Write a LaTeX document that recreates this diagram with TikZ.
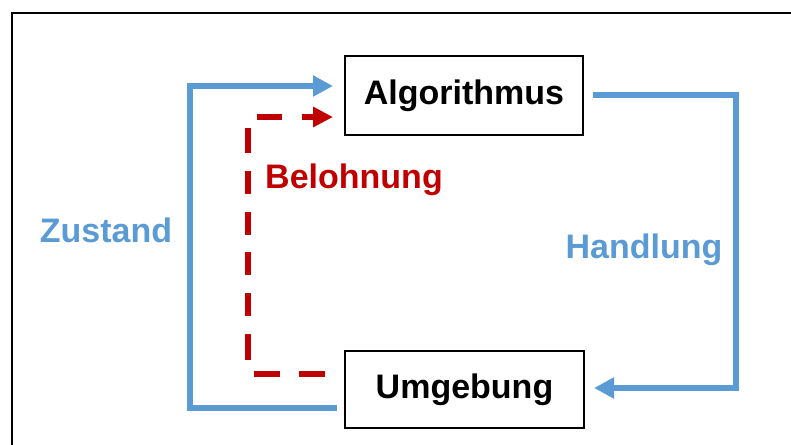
\documentclass[tikz,border=0pt]{standalone}
\usepackage{fontspec}
\setmainfont{Liberation Sans}
\usetikzlibrary{arrows.meta}
\definecolor{flowblue}{HTML}{5B9BD5}
\definecolor{rewardred}{HTML}{C00000}
\begin{document}
\begin{tikzpicture}[x=0.75pt,y=-0.75pt,
  box/.style={draw=black, line width=1.9pt, inner sep=0pt,
    font=\fontsize{25.5}{30}\selectfont\bfseries},
  lbl/.style={anchor=base, inner sep=0pt, font=\fontsize{25.5}{30}\selectfont\bfseries},
  bluelink/.style={draw=flowblue, line width=4.5pt, line join=miter,
    -{Triangle[length=15pt,width=15pt]}},
  redlink/.style={draw=rewardred, line width=4.2pt, line join=miter,
    dash pattern=on 19.5pt off 14.25pt on 19.5pt off 15pt on 19.5pt
      off 13.35pt on 17.25pt off 13.35pt on 17.25pt off 13.35pt on 17.25pt
      off 13.35pt on 17.25pt off 13.35pt
      on 18.75pt off 15pt on 18.75pt off 15pt on 60pt,
    -{Triangle[length=15pt,width=14.5pt]}}]
  \useasboundingbox (0,0) rectangle (791,444);
  \clip (0,0) rectangle (791,444);

  % outer frame (runs past the right and bottom edges)
  \draw[line width=1.9pt] (12,460) -- (12,13) -- (810,13);

  % the two boxes
  \node[box, minimum width=178.5pt, minimum height=59.3pt] (alg) at (464,95.5) {Algorithmus};
  \node[box, minimum width=179.3pt, minimum height=57.8pt] (umg) at (464.5,389.5) {Umgebung};

  % free ends and bends of the connectors
  \coordinate (zs) at (337,408);
  \coordinate (zc) at (190,86);
  \coordinate (zt) at (333,86);
  \coordinate (hs) at (593,95);
  \coordinate (hc) at (736,388);
  \coordinate (ht) at (594,388);
  \coordinate (bs) at (325,374);
  \coordinate (bc) at (248,117);
  \coordinate (bt) at (333,117);

  % state, action and reward loops
  \draw[bluelink] (zs) -| (zc) -- (zt);
  \draw[bluelink] (hs) -| (hc) -- (ht);
  \draw[redlink] (bs) -| (bc) -- (bt);

  % labels
  \node[lbl, text=flowblue] (zlab) at (106,242) {Zustand};
  \node[lbl, text=flowblue] (hlab) at (644,258) {Handlung};
  \node[lbl, text=rewardred] (blab) at (354,188) {Belohnung};
\end{tikzpicture}
\end{document}
